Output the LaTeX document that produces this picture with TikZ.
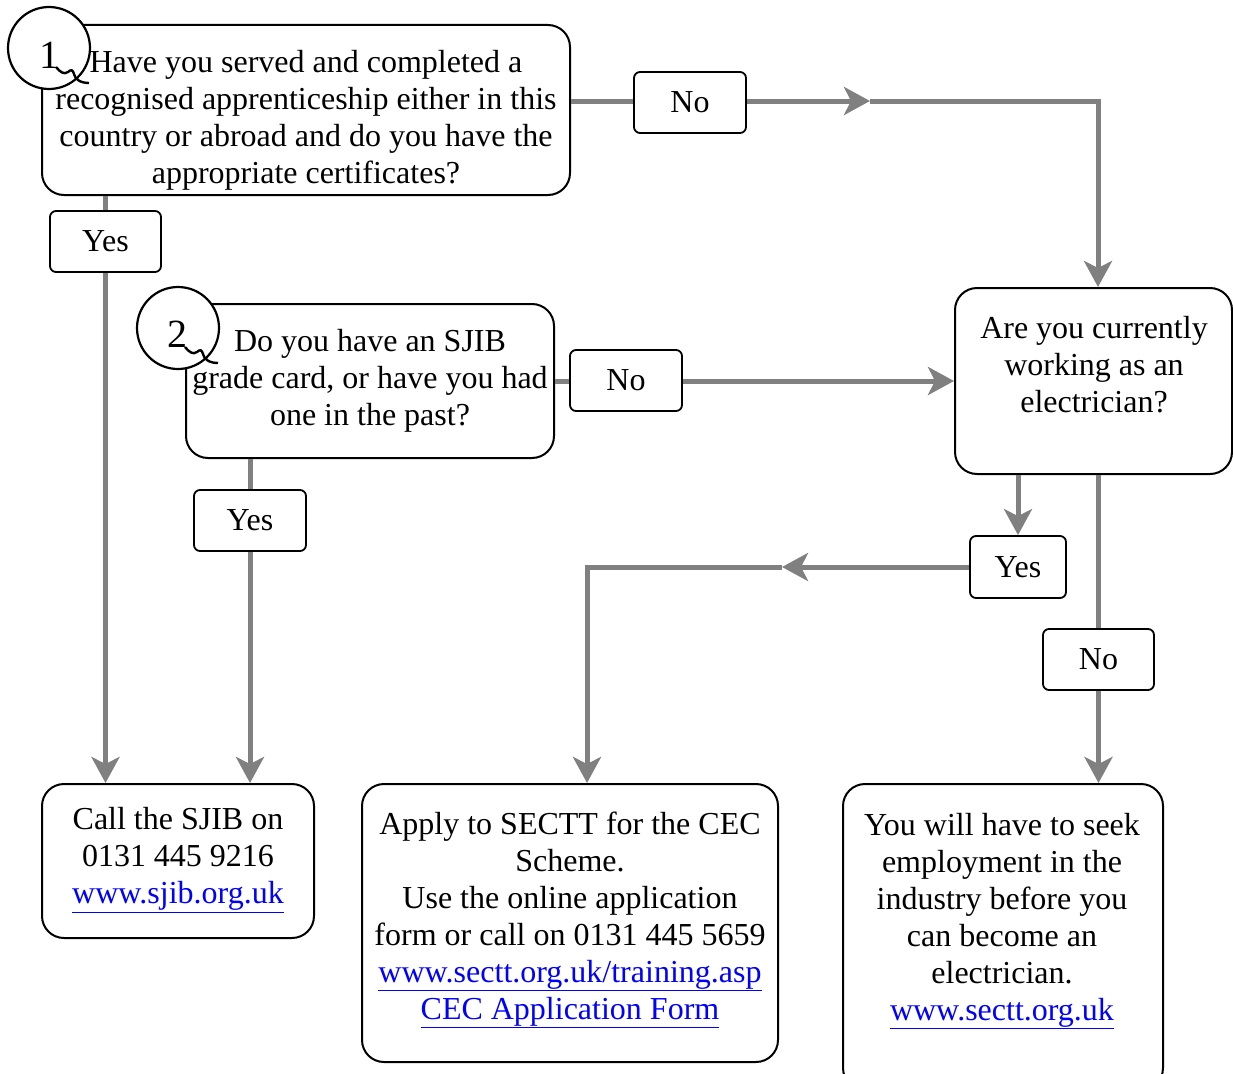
\documentclass[tikz,border=0pt]{standalone}
\usepackage{fontspec}
\setmainfont{Liberation Serif}
\usetikzlibrary{arrows.meta}
\definecolor{lgray}{RGB}{128,128,128}
\definecolor{linkblue}{RGB}{0,0,255}
\newcommand{\lnk}[1]{\textcolor{linkblue}{\underline{#1}}}
\begin{document}
\begin{tikzpicture}[x=1pt,y=-1pt,
  box/.style={draw, line width=2pt, rounded corners=22pt, fill=white, inner sep=0pt},
  lbl/.style={draw, line width=1.8pt, rounded corners=6pt, fill=white, inner sep=0pt,
    minimum height=61pt, font=\fontsize{32}{37}\selectfont},
  txt/.style={align=center, inner sep=0pt, font=\fontsize{32}{37}\selectfont},
  numt/.style={inner sep=0pt, font=\fontsize{40}{40}\selectfont},
  conn/.style={draw=lgray, line width=5pt},
  tip/.style={-{Stealth[length=26pt,width=28pt,inset=7pt]}},
  num/.style={draw, circle, line width=2.2pt, fill=white, minimum size=82pt, inner sep=0pt},
  tail/.style={draw, line width=2.4pt}
]
\useasboundingbox (0,0) rectangle (1233,1073);

% boxes
\node[box, minimum width=528pt, minimum height=170pt] (q1) at (306,110) {};
\node[box, minimum width=368pt, minimum height=154pt] (q2) at (370,381) {};
\node[box, minimum width=277pt, minimum height=186pt] (are) at (1093.5,381) {};
\node[box, minimum width=272pt, minimum height=154pt] (call) at (178,861) {};
\node[box, minimum width=416pt, minimum height=278pt] (apply) at (570,923) {};
\node[box, minimum width=320pt, minimum height=306pt] (seek) at (1003,937) {};

% box texts
\node[txt] (q1t) at (306,120) {Have you served and completed a\\recognised apprenticeship either in this\\country or abroad and do you have the\\appropriate certificates?};
\node[txt] (q2t) at (370,381) {Do you have an SJIB\\grade card, or have you had\\one in the past?};
\node[txt] (aret) at (1094,365) {Are you currently\\working as an\\electrician?};
\node[txt] (callt) at (178,860) {Call the SJIB on\\0131 445 9216\\\lnk{www.sjib.org.uk}};
\node[txt] (applyt) at (570,920) {Apply to SECTT for the CEC\\Scheme.\\Use the online application\\form or call on 0131 445 5659\\\lnk{www.sectt.org.uk/training.asp}\\\lnk{CEC Application Form}};
\node[txt] (seekt) at (1002,921) {You will have to seek\\employment in the\\industry before you\\can become an\\electrician.\\\lnk{www.sectt.org.uk}};

% number circles
\node[num] (n1) at (49,48) {};
\node[numt] (n1t) at (49,55) {1};
\draw[tail] (56,67) .. controls (60,72) and (64,75) .. (68,72) .. controls (71,69) and (73,70) .. (74,74) .. controls (75,79) and (80,83) .. (89,83);
\node[num] (n2) at (178,328) {};
\node[numt] (n2t) at (177,334) {2};
\draw[tail] (185,347) .. controls (189,352) and (193,355) .. (197,352) .. controls (200,349) and (202,350) .. (203,354) .. controls (204,359) and (209,363) .. (218,363);

% label boxes
\node[lbl, minimum width=112pt] (no1) at (690,102.5) {No};
\node[lbl, minimum width=111pt] (yes1) at (105.5,241.5) {Yes};
\node[lbl, minimum width=112pt] (no2) at (626,380.5) {No};
\node[lbl, minimum width=112pt] (yes2) at (250,520.5) {Yes};
\node[lbl, minimum width=96pt, minimum height=62pt] (yes3) at (1018,567) {Yes};
\node[lbl, minimum width=111pt] (no3) at (1098.5,659.5) {No};

% helper coordinates
\coordinate (m1) at (870,101);
\coordinate (c1) at (1098,101);
\coordinate (m2) at (782,567);
\coordinate (c2) at (587,567);

% connectors
\draw[conn] (q1.east |- 0,101) -- (no1.west |- 0,101);
\draw[conn,tip] (no1.east |- 0,101) -- (m1);
\draw[conn,tip] (m1) -- (c1) -- (are.north -| c1);

\draw[conn] (q1.south -| yes1) -- (yes1.north);
\draw[conn,tip] (yes1.south) -- (call.north -| yes1);

\draw[conn] (q2.east |- 0,381) -- (no2.west |- 0,381);
\draw[conn,tip] (no2.east |- 0,381) -- (are.west |- 0,381);

\draw[conn] (q2.south -| yes2) -- (yes2.north);
\draw[conn,tip] (yes2.south) -- (call.north -| yes2);

\draw[conn,tip] (are.south -| yes3) -- (yes3.north);
\draw[conn,tip] (yes3.west) -- (m2);
\draw[conn,tip] (m2) -- (c2) -- (apply.north -| c2);

\draw[conn] (are.south -| no3) -- (no3.north);
\draw[conn,tip] (no3.south) -- (seek.north -| no3);
\end{tikzpicture}
\end{document}
